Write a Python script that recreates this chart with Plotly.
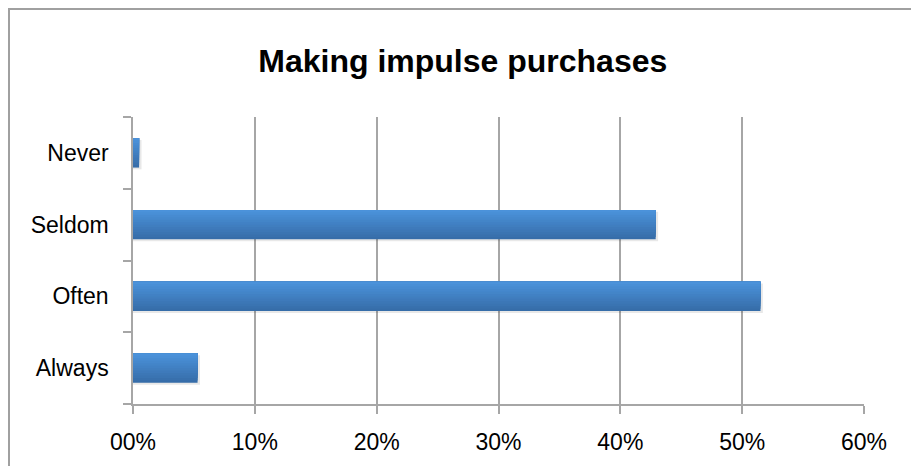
import plotly.graph_objects as go

categories = ["Always", "Often", "Seldom", "Never"]
values = [5.3, 51.5, 42.9, 0.5]
tick_vals = [0, 10, 20, 30, 40, 50, 60]
tick_text = ["00%", "10%", "20%", "30%", "40%", "50%", "60%"]

fig = go.Figure()

bar_w = 0.41
n = 12
dark = (0x36, 0x6D, 0xA9)
light = (0x4B, 0x92, 0xDA)
# soft shadow below the bar
fig.add_trace(go.Bar(
    y=categories, x=[v + 0.2 for v in values], orientation="h",
    width=bar_w, offset=-bar_w / 2 - 0.025,
    marker=dict(color="rgba(0,0,0,0.09)", line=dict(width=0)),
    hoverinfo="skip", showlegend=False,
))
# vertical gradient: overlapping bars, each reaching the top edge
for i in range(n):
    t = i / (n - 1)
    c = tuple(int(round(dark[k] + (light[k] - dark[k]) * t)) for k in range(3))
    start = -bar_w / 2 + i * bar_w / n
    fig.add_trace(go.Bar(
        y=categories, x=values, orientation="h",
        width=bar_w / 2 - start, offset=start,
        marker=dict(color="rgb(%d,%d,%d)" % c, line=dict(width=0)),
        showlegend=False,
    ))

fig.update_layout(
    width=911, height=466,
    margin=dict(l=133, r=47, t=117, b=62),
    paper_bgcolor="white", plot_bgcolor="white",
    barmode="overlay",
    title=dict(text="<b>Making impulse purchases</b>", x=0.508, xanchor="center",
               y=1 - 61 / 466, yanchor="middle",
               font=dict(family="Liberation Sans, Arial, sans-serif", size=32, color="black")),
    font=dict(family="Liberation Sans, Arial, sans-serif", size=23, color="black"),
    xaxis=dict(range=[0, 60], tickvals=tick_vals, ticktext=tick_text,
               showgrid=True, gridcolor="#a6a6a6", gridwidth=1.5,
               showline=True, linecolor="#a6a6a6", linewidth=1.5,
               ticks="outside", ticklen=8, tickcolor="#a6a6a6", tickwidth=1.5,
               zeroline=False, ticklabelstandoff=9),
    yaxis=dict(categoryorder="array", categoryarray=categories,
               range=[-0.5, 3.5],
               showgrid=False, showline=True, linecolor="#a6a6a6", linewidth=1.5,
               ticks="outside", ticklen=8, tickcolor="#a6a6a6", tickwidth=1.5,
               tickson="boundaries", ticklabelstandoff=18),
    shapes=[
        dict(type="line", xref="paper", yref="paper", x0=-125 / 731, x1=1.2,
             y0=1 + (117 - 9) / 287, y1=1 + (117 - 9) / 287,
             line=dict(color="#a0a0a0", width=2)),
        dict(type="line", xref="paper", yref="paper", x0=-124 / 731, x1=-124 / 731,
             y0=1 + (117 - 8) / 287, y1=-0.3,
             line=dict(color="#a0a0a0", width=2)),
    ],
)

fig.write_html("out.html")
